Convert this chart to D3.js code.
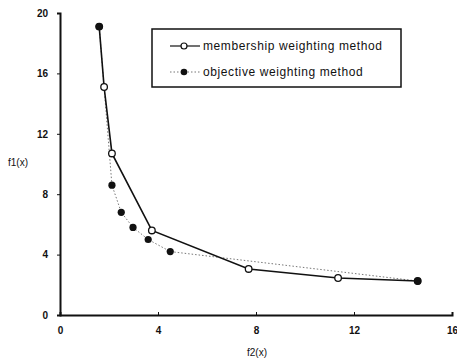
<!DOCTYPE html>
<html>
<head>
<meta charset="utf-8">
<script src="https://cdn.jsdelivr.net/npm/d3@7"></script>
<style>
  body { margin: 0; background: #fff; }
  text { font-family: "Liberation Sans", Arial, sans-serif; }
</style>
</head>
<body>
<div id="chart"></div>
<script>
// values
const xTicks = [0, 4, 8, 12, 16]
const yTicks = [0, 4, 8, 12, 16, 20]

const membershipX = [1.6, 1.8, 2.12, 3.75, 7.7, 11.35, 14.6]
const membershipY = [19.1, 15.1, 10.7, 5.6, 3.05, 2.45, 2.25]

const objectiveX = [1.6, 2.12, 2.5, 2.98, 3.6, 4.5, 14.6]
const objectiveY = [19.1, 8.6, 6.8, 5.8, 5.0, 4.2, 2.25]

const labels = ["membership weighting method", "objective weighting method"]

const w = 457, h = 361
const svg = d3.select("#chart").append("svg").attr("width", w).attr("height", h)

const x = d3.scaleLinear().domain([0, 16]).range([60, 452])
const y = d3.scaleLinear().domain([0, 20]).range([315, 13])

const membership = membershipX.map((d, i) => [d, membershipY[i]])
const objective = objectiveX.map((d, i) => [d, objectiveY[i]])

// axes
const axL = svg.append("g").attr("transform", `translate(${x(0)},0)`)
    .call(d3.axisLeft(y).tickValues(yTicks).tickSize(3).tickPadding(9))
const axB = svg.append("g").attr("transform", `translate(0,${y(0)})`)
    .call(d3.axisBottom(x).tickValues(xTicks).tickSize(-3).tickPadding(12))

;[axL, axB].forEach(ax => {
    ax.select(".domain").attr("stroke", "#111").attr("stroke-width", 2)
    ax.selectAll("line").attr("stroke", "#111")
    ax.selectAll("text")
        .attr("fill", "#111")
        .style("font-size", "10px")
        .style("font-weight", "bold")
})

// axis titles
svg.append("text").attr("x", 8).attr("y", 166)
    .style("font-size", "10px").attr("fill", "#111").text("f1(x)")
svg.append("text").attr("x", 247).attr("y", 356)
    .style("font-size", "10px").attr("fill", "#111").text("f2(x)")

const line = d3.line().x(d => x(d[0])).y(d => y(d[1]))

// objective weighting: dotted line, filled dots
svg.append("path").datum(objective)
    .attr("d", line)
    .attr("fill", "none")
    .attr("stroke", "#777")
    .attr("stroke-width", 1)
    .attr("stroke-dasharray", "1.5,2")

// membership weighting: solid line, open circles
svg.append("path").datum(membership)
    .attr("d", line)
    .attr("fill", "none")
    .attr("stroke", "#111")
    .attr("stroke-width", 1.6)

svg.append("g").selectAll("circle").data(membership).join("circle")
    .attr("cx", d => x(d[0])).attr("cy", d => y(d[1]))
    .attr("r", 3.3)
    .attr("fill", "#fff")
    .attr("stroke", "#111")
    .attr("stroke-width", 1.3)

svg.append("g").selectAll("circle").data(objective).join("circle")
    .attr("cx", d => x(d[0])).attr("cy", d => y(d[1]))
    .attr("r", 3.6)
    .attr("fill", "#111")

// legend
const lg = svg.append("g")
lg.append("rect").attr("x", 152).attr("y", 29).attr("width", 249).attr("height", 58)
    .attr("fill", "#fff").attr("stroke", "#111").attr("stroke-width", 1.5)

lg.append("line").attr("x1", 170).attr("x2", 200).attr("y1", 46).attr("y2", 46)
    .attr("stroke", "#111").attr("stroke-width", 1.2)
lg.append("circle").attr("cx", 184).attr("cy", 46).attr("r", 3)
    .attr("fill", "#fff").attr("stroke", "#111").attr("stroke-width", 1.2)
lg.append("line").attr("x1", 170).attr("x2", 200).attr("y1", 72).attr("y2", 72)
    .attr("stroke", "#777").attr("stroke-dasharray", "1.5,2")
lg.append("circle").attr("cx", 184).attr("cy", 72).attr("r", 3.3).attr("fill", "#111")

lg.selectAll("text.lab").data(labels).join("text")
    .attr("class", "lab")
    .attr("x", 203)
    .attr("y", (d, i) => 50 + i * 26)
    .attr("fill", "#111")
    .style("font-size", "12px")
    .style("letter-spacing", "0.6px")
    .text(d => d)
</script>
</body>
</html>
